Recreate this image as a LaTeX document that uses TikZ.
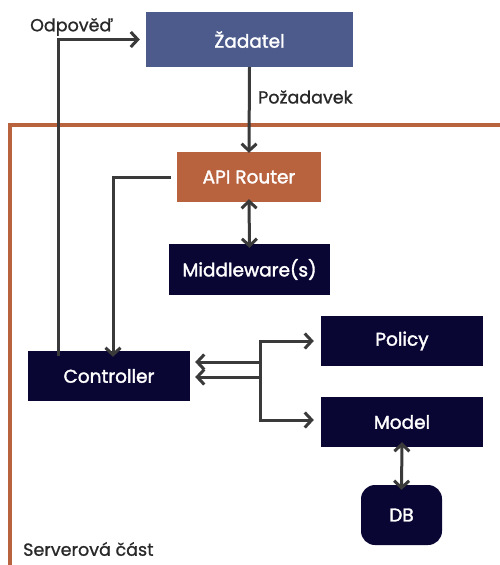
\documentclass[tikz,border=0pt]{standalone}
\usepackage{fontspec}
\setmainfont{Poppins}
\newfontfamily\medfont[FakeBold=1.8]{Poppins}
\newfontfamily\lblfont[FakeBold=1.0]{Poppins}
\usetikzlibrary{arrows.meta,calc}
\definecolor{zad}{RGB}{76,90,140}
\definecolor{org}{RGB}{184,98,62}
\definecolor{navy}{RGB}{10,6,52}
\definecolor{ln}{RGB}{58,58,58}
\definecolor{lbl}{RGB}{40,40,40}
\begin{document}
\begin{tikzpicture}[x=1pt,y=-1pt,
  tip/.tip={Straight Barb[length=7pt,width=15pt,line width=3pt]},
  box/.style={minimum width=162pt,minimum height=50pt,inner sep=0pt,text=white,font=\medfont\fontsize{18.5}{21}\selectfont},
  arr/.style={draw=ln,line width=3pt,-tip},
  biarr/.style={draw=ln,line width=3pt,tip-tip},
  lab/.style={text=lbl,font=\lblfont\fontsize{17.5}{20}\selectfont,inner sep=0pt}]
\useasboundingbox (0,0) rectangle (500,565);
\fill[white] (0,0) rectangle (500,565);
% frame
\draw[org,line width=3.5pt] (10,566) -- (10,125) -- (501,125);
% nodes
\node[box,fill=zad,minimum width=207pt,minimum height=55pt] (zad) at (249.5,39.5) {Žadatel};
\node[box,fill=org,minimum width=144pt] (api) at (249,177) {API Router};
\node[box,fill=navy,minimum width=161pt,minimum height=51pt] (mw) at (249.5,269.5) {Middleware(s)};
\node[box,fill=navy] (ctrl) at (109,376) {Controller};
\node[box,fill=navy] (pol) at (402,341) {Policy};
\node[box,fill=navy] (mod) at (402,422) {Model};
\node[box,fill=navy,minimum width=81pt,minimum height=60pt,rounded corners=14pt] (db) at (401.5,515) {DB};
% labels
\node[lab,anchor=west] (odp) at (30,27) {Odpověď};
\node[lab,anchor=west] (poz) at (258,97) {Požadavek};
\node[lab,anchor=west] (srv) at (23,549) {Serverová část};
% connectors
\coordinate (jn) at (260,0);
\coordinate (rx) at (58,0);
\coordinate (cx) at (113,0);
\draw[arr] ([yshift=-5pt]ctrl.north -| rx) |- ([xshift=-6pt]zad.west);
\draw[arr] (zad.south) -- ([yshift=-1pt]api.north);
\draw[biarr] ([yshift=3pt]api.south) -- ([yshift=-4pt]mw.north);
\draw[arr] ([xshift=-6pt]api.west) -| ([yshift=-6pt]ctrl.north -| cx);
\draw[biarr] ([xshift=5pt,yshift=-1pt]ctrl.east) -| (jn |- pol.west) -- ([xshift=-7pt]pol.west);
\draw[biarr] ([xshift=5pt,yshift=14pt]ctrl.east) -| ([yshift=2pt]jn |- mod.west) -- ([xshift=-7pt,yshift=2pt]mod.west);
\draw[biarr] ([yshift=5pt]mod.south) -- ([yshift=-5pt]db.north);
\end{tikzpicture}
\end{document}
